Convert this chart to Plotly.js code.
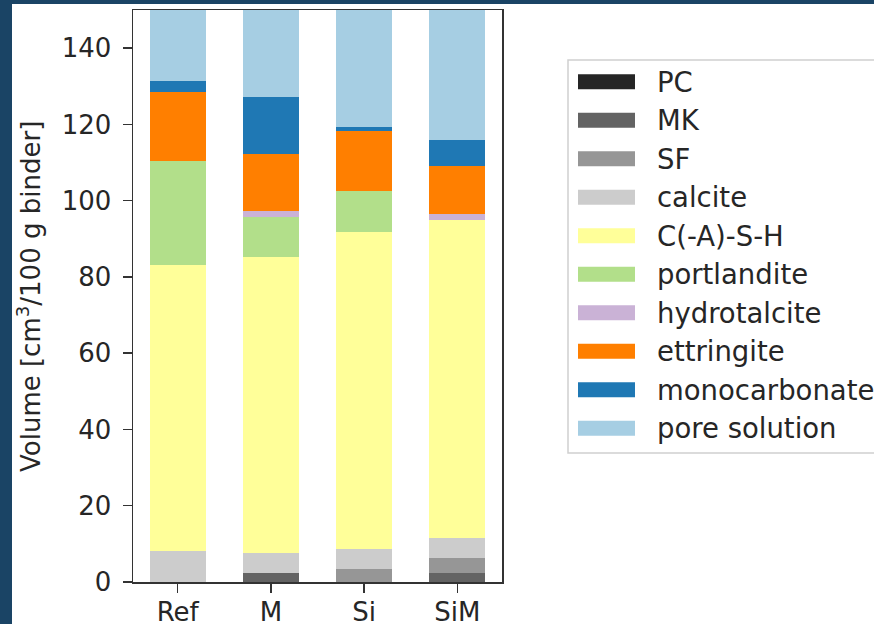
<!DOCTYPE html>
<html>
<head>
<meta charset="utf-8">
<script src="https://cdn.plot.ly/plotly-3.0.1.min.js"></script>
<style>
  html, body { margin: 0; padding: 0; background: #1a4465; width: 874px; height: 624px; overflow: hidden; }
  #chart { position: absolute; left: 12px; top: 4px; width: 862px; height: 620px; background: #ffffff; }
</style>
</head>
<body>
<div id="chart"></div>
<script>
// ---- data ----
const categories = ["Ref", "M", "Si", "SiM"];
const seriesNames = ["PC", "MK", "SF", "calcite", "C(-A)-S-H", "portlandite", "hydrotalcite", "ettringite", "monocarbonate", "pore solution"];
const seriesColors = ["#252525", "#636363", "#969696", "#cccccc", "#ffff99", "#b2df8a", "#cab2d6", "#ff7f00", "#1f78b4", "#a6cee3"];
const PC            = [0.0, 0.0, 0.0, 0.0];
const MK            = [0.0, 2.3, 0.0, 2.3];
const SF            = [0.0, 0.0, 3.4, 3.9];
const calcite       = [8.2, 5.4, 5.2, 5.3];
const CASH          = [74.8, 77.6, 83.3, 83.5];
const portlandite   = [27.5, 10.5, 10.7, 0.0];
const hydrotalcite  = [0.0, 1.5, 0.0, 1.5];
const ettringite    = [18.0, 15.0, 15.7, 12.6];
const monocarbonate = [2.9, 14.9, 1.0, 6.9];
const poreSolution  = [18.6, 22.8, 30.7, 33.9];
const seriesValues = [PC, MK, SF, calcite, CASH, portlandite, hydrotalcite, ettringite, monocarbonate, poreSolution];
const yTicks = [0, 20, 40, 60, 80, 100, 120, 140];

// ---- traces ----
const traces = seriesNames.map((name, i) => ({
  type: "bar",
  name: name,
  x: categories,
  y: seriesValues[i],
  width: 0.6,
  marker: { color: seriesColors[i], line: { width: 0 } },
  showlegend: false,
  hoverinfo: "x+y+name"
}));

// ---- page-pixel helpers for the hand-made legend ----
const plotL = 133, plotR = 502, plotT = 10, plotB = 582;
const px2x = px => (px - plotL) / (plotR - plotL);
const py2y = py => (plotB - py) / (plotB - plotT);

const shapes = [];
const annotations = [];
// legend frame
shapes.push({
  type: "rect", xref: "paper", yref: "paper",
  x0: px2x(568), x1: px2x(905), y0: py2y(453), y1: py2y(60),
  line: { color: "#d0d0d0", width: 1.5 }, fillcolor: "rgba(255,255,255,0.9)", layer: "above"
});
const rowTop = 81.7, rowStep = 38.5;
seriesNames.forEach((name, i) => {
  const cy = rowTop + i * rowStep;
  shapes.push({
    type: "rect", xref: "paper", yref: "paper",
    x0: px2x(578), x1: px2x(635), y0: py2y(cy + 7.5), y1: py2y(cy - 7.5),
    line: { width: 0 }, fillcolor: seriesColors[i], layer: "above"
  });
  annotations.push({
    xref: "paper", yref: "paper", x: px2x(655), y: py2y(cy),
    xanchor: "left", yanchor: "middle", showarrow: false,
    text: name, font: { family: "DejaVu Sans", size: 27.5, color: "#262626" }
  });
});
// y-axis title
annotations.push({
  xref: "paper", yref: "paper", x: px2x(29), y: py2y(297),
  xanchor: "center", yanchor: "middle", showarrow: false, textangle: -90,
  text: "Volume [cm<sup>3</sup>/100 g binder]",
  font: { family: "DejaVu Sans", size: 26, color: "#262626" }
});

const layout = {
  width: 862, height: 620,
  margin: { l: plotL - 12, r: 862 - (plotR - 12), t: plotT - 4, b: 620 - (plotB - 4) },
  paper_bgcolor: "#ffffff", plot_bgcolor: "#ffffff",
  barmode: "stack",
  showlegend: false,
  font: { family: "DejaVu Sans", color: "#262626" },
  xaxis: {
    type: "category", range: [-0.48, 3.48],
    showline: true, mirror: true, linecolor: "#333333", linewidth: 1.5,
    ticks: "outside", ticklen: 9, tickwidth: 1.5, tickcolor: "#333333",
    ticklabelstandoff: -3,
    tickfont: { family: "DejaVu Sans", size: 26, color: "#262626" },
    showgrid: false, zeroline: false, fixedrange: true
  },
  yaxis: {
    range: [0, 150], tickvals: yTicks, ticktext: yTicks.map(String),
    showline: true, mirror: true, linecolor: "#333333", linewidth: 1.5,
    ticks: "outside", ticklen: 9, tickwidth: 1.5, tickcolor: "#333333",
    ticklabelstandoff: 6,
    tickfont: { family: "DejaVu Sans", size: 26, color: "#262626" },
    showgrid: false, zeroline: false, fixedrange: true
  },
  shapes: shapes,
  annotations: annotations
};

Plotly.newPlot("chart", traces, layout, { displayModeBar: false, staticPlot: true });
</script>
</body>
</html>
